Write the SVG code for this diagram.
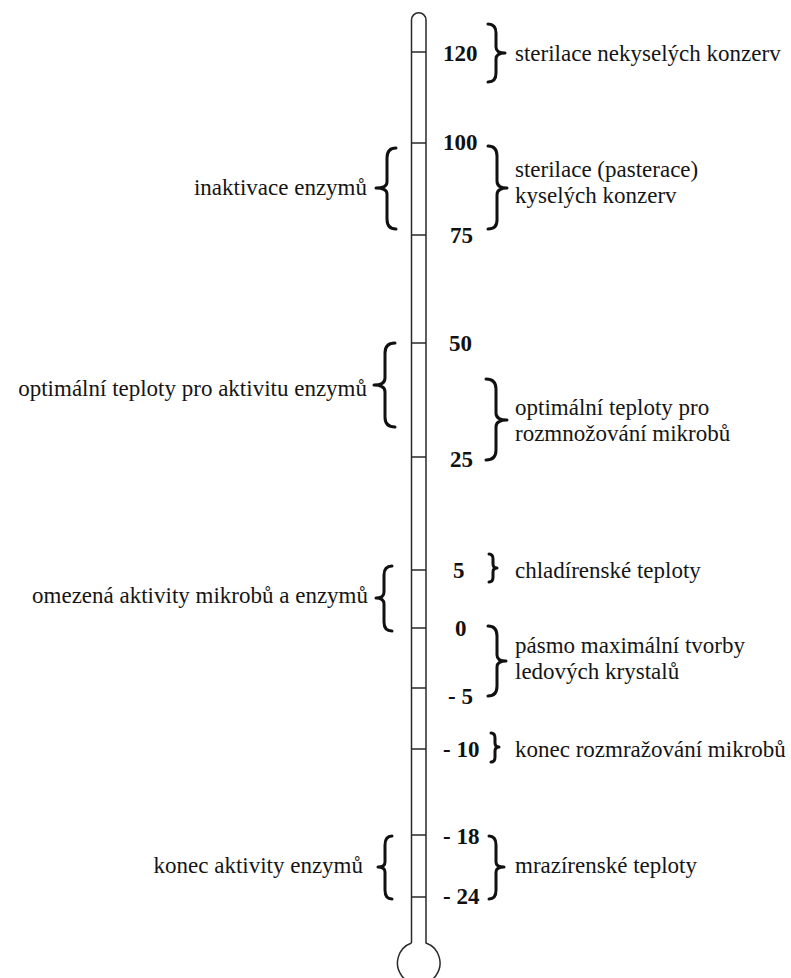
<svg xmlns="http://www.w3.org/2000/svg" width="791" height="978" viewBox="0 0 791 978">
<style>
.tube{fill:none;stroke:#2a2a2a;stroke-width:1.5}
.tick{stroke:#2a2a2a;stroke-width:1.5}
.br{fill:none;stroke:#111;stroke-width:3;stroke-linecap:round;stroke-linejoin:round}
.num{font-family:"Liberation Serif","Times New Roman",serif;font-size:23px;font-weight:bold;fill:#111}
.lbl{font-family:"Liberation Serif","Times New Roman",serif;font-size:23px;fill:#151515}
.end{text-anchor:end}
</style>
<rect width="791" height="978" fill="#fff"/>
<g id="thermometer">
<path class="tube" d="M411.5,943 L411.5,20 A7.25,7.25 0 0 1 426,20 L426,943 A21.27,21.27 0 1 1 411.5,943"/>
<line class="tick" x1="411.5" y1="52" x2="426" y2="52"/>
<line class="tick" x1="411.5" y1="143" x2="426" y2="143"/>
<line class="tick" x1="411.5" y1="235" x2="426" y2="235"/>
<line class="tick" x1="411.5" y1="343" x2="426" y2="343"/>
<line class="tick" x1="411.5" y1="457" x2="426" y2="457"/>
<line class="tick" x1="411.5" y1="570" x2="426" y2="570"/>
<line class="tick" x1="411.5" y1="628" x2="426" y2="628"/>
<line class="tick" x1="411.5" y1="688" x2="426" y2="688"/>
<line class="tick" x1="411.5" y1="749" x2="426" y2="749"/>
<line class="tick" x1="411.5" y1="835" x2="426" y2="835"/>
<line class="tick" x1="411.5" y1="897" x2="426" y2="897"/>
</g>
<g id="numbers">
<text class="num" x="443" y="61">120</text>
<text class="num" x="443" y="150">100</text>
<text class="num" x="450" y="243">75</text>
<text class="num" x="449" y="351">50</text>
<text class="num" x="450" y="467">25</text>
<text class="num" x="453" y="578">5</text>
<text class="num" x="455" y="636">0</text>
<text class="num" x="448" y="704">- 5</text>
<text class="num" x="443" y="757">- 10</text>
<text class="num" x="443" y="844">- 18</text>
<text class="num" x="443" y="904">- 24</text>
</g>
<g id="braces">
<path class="br" d="M488,24 Q496,24 496,33 L496,47 Q496,53 505,53 Q496,53 496,59 L496,73 Q496,82 488,82"/>
<path class="br" d="M488,146 Q497,146 497,156 L497,181 Q497,188 507,188 Q497,188 497,195 L497,220 Q497,229 488,229"/>
<path class="br" d="M486,379 Q496,379 496,389 L496,413 Q496,420 507,420 Q496,420 496,427 L496,450 Q496,460 486,460"/>
<path class="br" d="M489,554 Q493,554 493,559 L493,564 Q493,568 497,568 Q493,568 493,572 L493,577 Q493,582 489,582"/>
<path class="br" d="M488,626 Q497,626 497,636 L497,655 Q497,661 506,661 Q497,661 497,667 L497,686 Q497,696 488,696"/>
<path class="br" d="M491,733 Q495,733 495,738 L495,743 Q495,747 499,747 Q495,747 495,751 L495,757 Q495,762 491,762"/>
<path class="br" d="M489,836 Q496,836 496,845 L496,862 Q496,867 504,867 Q496,867 496,872 L496,890 Q496,899 489,899"/>
<path class="br" d="M396,148 Q387,148 387,158 L387,182 Q387,188 376,188 Q387,188 387,194 L387,219 Q387,229 396,229"/>
<path class="br" d="M395,343 Q385,343 385,353 L385,378 Q385,385 374,385 Q385,385 385,392 L385,417 Q385,427 395,427"/>
<path class="br" d="M392,566 Q384,566 384,575 L384,592 Q384,598 376,598 Q384,598 384,604 L384,622 Q384,631 392,631"/>
<path class="br" d="M392,836 Q385,836 385,845 L385,862 Q385,867 378,867 Q385,867 385,872 L385,890 Q385,899 392,899"/>
</g>
<g id="labels-right">
<text class="lbl" x="515" y="61">sterilace nekyselých konzerv</text>
<text class="lbl" x="515" y="177">sterilace (pasterace)</text>
<text class="lbl" x="515" y="203">kyselých konzerv</text>
<text class="lbl" x="515" y="415">optimální teploty pro</text>
<text class="lbl" x="515" y="441">rozmnožování mikrobů</text>
<text class="lbl" x="515" y="578">chladírenské teploty</text>
<text class="lbl" x="515" y="653">pásmo maximální tvorby</text>
<text class="lbl" x="515" y="679">ledových krystalů</text>
<text class="lbl" x="515" y="757">konec rozmražování mikrobů</text>
<text class="lbl" x="515" y="873">mrazírenské teploty</text>
</g>
<g id="labels-left">
<text class="lbl end" x="367" y="195">inaktivace enzymů</text>
<text class="lbl end" x="367" y="396">optimální teploty pro aktivitu enzymů</text>
<text class="lbl end" x="368" y="603">omezená aktivity mikrobů a enzymů</text>
<text class="lbl end" x="363" y="873">konec aktivity enzymů</text>
</g>
</svg>
